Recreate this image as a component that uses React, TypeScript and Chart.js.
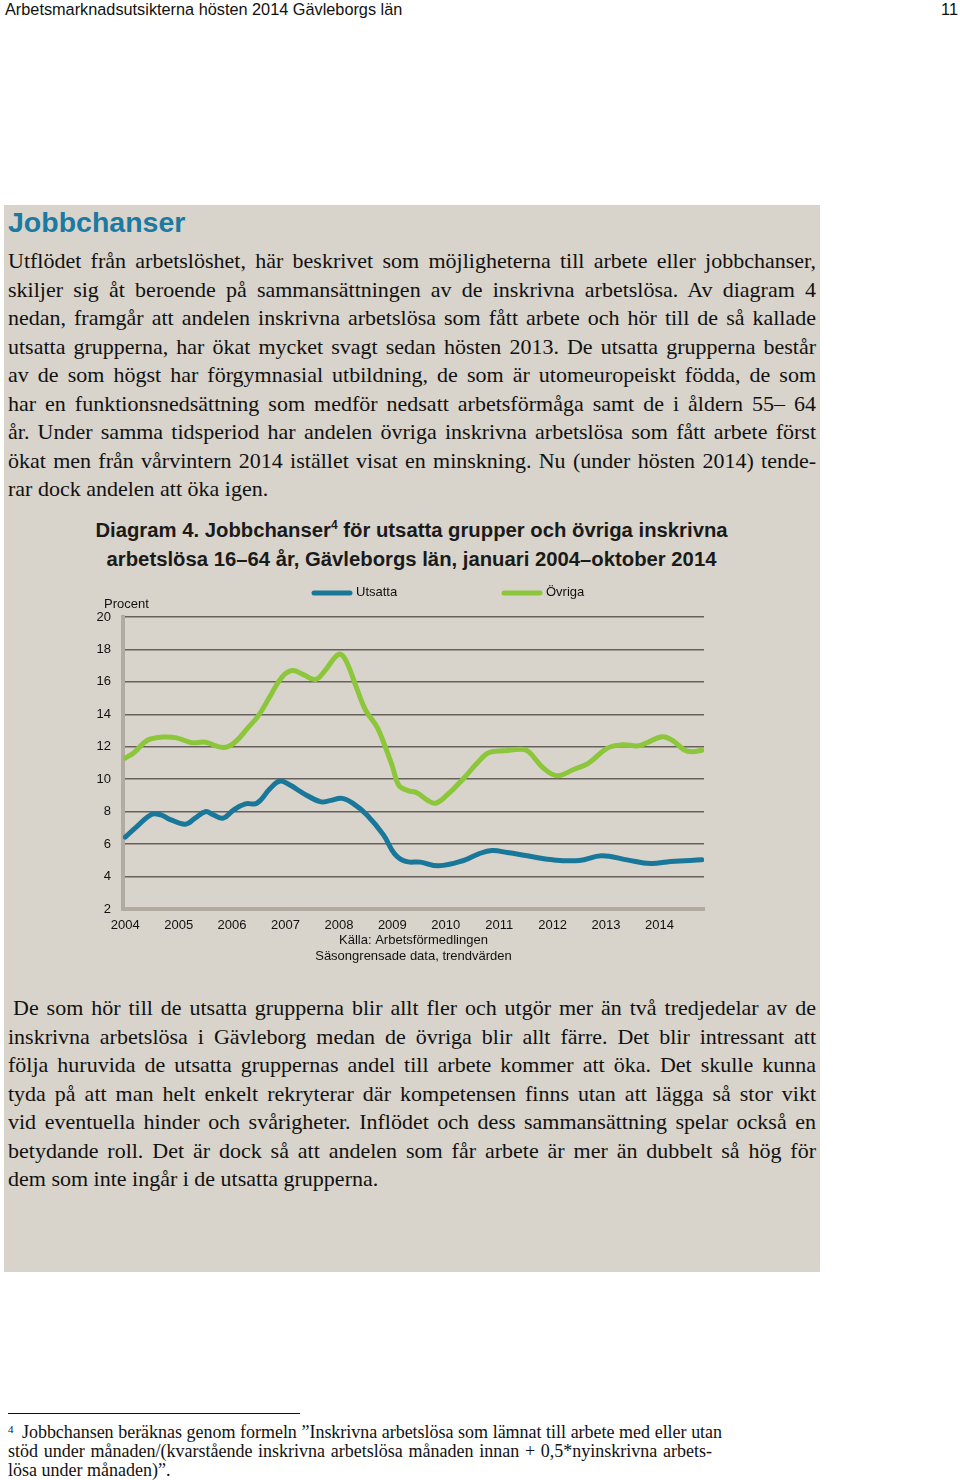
import React, { useEffect, useRef } from 'react';
import { Chart, registerables } from 'chart.js';

Chart.register(...registerables);

// ---- Data (months counted from January 2004 = 0) ----
const yearLabels = ['2004', '2005', '2006', '2007', '2008', '2009', '2010', '2011', '2012', '2013', '2014'];
const yearTickMonths = [0, 12, 24, 36, 48, 60, 72, 84, 96, 108, 120];
const yTicks = [2, 4, 6, 8, 10, 12, 14, 16, 18, 20];

const utsattaMonths = [0, 2.6, 6, 8, 10, 13.5, 15.7, 18, 19.8, 22, 24.3, 27, 29.6, 32.6, 34.8, 37, 40, 43.8, 46, 48.7, 51.3, 54.3, 58, 60.5, 63, 66.3, 70.4, 76, 79.4, 82.4, 85.8, 90.3, 96, 102, 107, 112.7, 118, 122.5, 129.5];
const utsattaValues = [6.43, 7.08, 7.84, 7.8, 7.53, 7.23, 7.6, 8.0, 7.8, 7.6, 8.1, 8.48, 8.52, 9.44, 9.89, 9.64, 9.13, 8.62, 8.68, 8.82, 8.48, 7.8, 6.57, 5.4, 4.93, 4.89, 4.66, 4.99, 5.4, 5.6, 5.48, 5.28, 5.03, 4.99, 5.28, 5.03, 4.8, 4.93, 5.03];

const ovrigaMonths = [0, 2, 5, 8.5, 11.5, 15, 18, 22, 24.5, 27.5, 30, 32.5, 35.2, 37.5, 40, 42.7, 44.6, 47.9, 49.4, 52, 54, 56.6, 58.4, 60, 61.5, 63.5, 65.5, 67.8, 69.7, 72.3, 76, 79, 81.6, 85, 89, 90.6, 94, 97, 100.7, 104, 108.2, 111.5, 115.3, 117.2, 120.6, 122.9, 125.6, 127.4, 129.5];
const ovrigaValues = [11.3, 11.65, 12.4, 12.6, 12.55, 12.25, 12.28, 11.95, 12.25, 13.15, 13.95, 15.1, 16.3, 16.7, 16.45, 16.15, 16.6, 17.7, 17.4, 15.6, 14.25, 13.2, 12.0, 10.8, 9.6, 9.3, 9.17, 8.72, 8.52, 9.03, 10.05, 10.98, 11.63, 11.75, 11.84, 11.7, 10.67, 10.22, 10.6, 10.98, 11.9, 12.12, 12.06, 12.25, 12.62, 12.4, 11.8, 11.7, 11.78];

const seriesLabels = ['Utsatta', 'Övriga'];
const yUnit = 'Procent';
const sourceLines = ['Källa: Arbetsförmedlingen', 'Säsongrensade data, trendvärden'];

// ---- Styles ----
const BLUE = '#19779a';
const GREEN = '#8cc63a';
const BOX_BG = '#d8d4cb';
const GRID = '#66615c';
const AXIS = '#b2aba1';
const SANS = '"Liberation Sans", Arial, sans-serif';
const SERIF = '"Liberation Serif", "Times New Roman", serif';
const LEGEND_OFFSETS = [191, 381];

let measureCtx: CanvasRenderingContext2D | null = null;
function fitSpacing(text: string, font: string, width: number) {
  if (!measureCtx) measureCtx = document.createElement('canvas').getContext('2d');
  if (!measureCtx) return 0;
  measureCtx.font = font;
  const w = measureCtx.measureText(text).width;
  return w > width - 1 ? (width - 1 - w) / text.length - 0.02 : 0;
}

const overlayPlugin = {
  id: 'overlay',
  afterDraw(chart: any) {
    const { ctx, chartArea } = chart;
    ctx.save();
    ctx.font = '13px ' + SANS;
    ctx.fillStyle = '#111';
    ctx.textBaseline = 'middle';
    ctx.textAlign = 'left';
    ctx.fillText(yUnit, chartArea.left - 19, chartArea.top - 13);
    chart.data.datasets.forEach((ds: any, i: number) => {
      const x0 = chartArea.left + LEGEND_OFFSETS[i];
      const y = chartArea.top - 25;
      ctx.strokeStyle = ds.borderColor;
      ctx.lineWidth = 5;
      ctx.lineCap = 'round';
      ctx.beginPath();
      ctx.moveTo(x0, y + 1);
      ctx.lineTo(x0 + 36, y + 1);
      ctx.stroke();
      ctx.fillText(ds.label, x0 + 42, y);
    });
    ctx.restore();
  },
};

function ChartCanvas() {
  const ref = useRef<HTMLCanvasElement | null>(null);
  useEffect(() => {
    if (!ref.current) return;
    Chart.defaults.font.family = SANS;
    Chart.defaults.font.size = 13;
    Chart.defaults.color = '#111';
    const mk = (ms: number[], vs: number[]) => ms.map((m, i) => ({ x: m, y: vs[i] }));
    const chart = new Chart(ref.current, {
      type: 'line',
      data: {
        datasets: [
          {
            label: seriesLabels[0],
            data: mk(utsattaMonths, utsattaValues),
            borderColor: BLUE,
            backgroundColor: BLUE,
            borderWidth: 5,
            pointRadius: 0,
            tension: 0.4,
            borderCapStyle: 'round',
            borderJoinStyle: 'round',
          },
          {
            label: seriesLabels[1],
            data: mk(ovrigaMonths, ovrigaValues),
            borderColor: GREEN,
            backgroundColor: GREEN,
            borderWidth: 5,
            pointRadius: 0,
            tension: 0.4,
            borderCapStyle: 'round',
            borderJoinStyle: 'round',
          },
        ],
      },
      options: {
        animation: false,
        responsive: false,
        devicePixelRatio: 1,
        layout: { padding: { top: 39, right: 106, bottom: 6, left: 0 } },
        plugins: { legend: { display: false }, tooltip: { enabled: false } },
        scales: {
          x: {
            type: 'linear',
            min: -0.5,
            max: 130,
            grid: { display: false, drawTicks: false },
            border: { display: true, color: AXIS, width: 4 },
            afterBuildTicks: (axis: any) => {
              axis.ticks = yearTickMonths.map((v) => ({ value: v }));
            },
            afterFit: (scale: any) => {
              scale.height = 55;
            },
            ticks: {
              autoSkip: false,
              maxRotation: 0,
              padding: 9,
              color: '#111',
              font: { size: 13 },
              callback: (v: any) => {
                const idx = yearTickMonths.indexOf(Number(v));
                return idx >= 0 ? yearLabels[idx] : '';
              },
            },
            title: {
              display: true,
              text: sourceLines,
              color: '#111',
              font: { size: 13, lineHeight: 1.23 },
              padding: { top: 0, bottom: 0 },
            },
          },
          y: {
            min: 2,
            max: 20,
            afterBuildTicks: (axis: any) => {
              axis.ticks = yTicks.map((v) => ({ value: v }));
            },
            afterFit: (scale: any) => {
              scale.width = 33;
            },
            grid: {
              drawTicks: false,
              lineWidth: 1.5,
              color: (c: any) => (c.tick && c.tick.value === 2 ? 'rgba(0,0,0,0)' : GRID),
            },
            border: { display: true, color: AXIS, width: 4 },
            ticks: { padding: 12, color: '#111', font: { size: 13 } },
          },
        },
      },
      plugins: [overlayPlugin],
    } as any);
    return () => chart.destroy();
  }, []);
  return (
    <canvas
      ref={ref}
      width={720}
      height={392}
      style={{ position: 'absolute', left: 90, top: 578, width: 720, height: 392 }}
    />
  );
}

const para1 = [
  'Utflödet från arbetslöshet, här beskrivet som möjligheterna till arbete eller jobbchanser,',
  'skiljer sig åt beroende på sammansättningen av de inskrivna arbetslösa. Av diagram 4',
  'nedan, framgår att andelen inskrivna arbetslösa som fått arbete och hör till de så kallade',
  'utsatta grupperna, har ökat mycket svagt sedan hösten 2013. De utsatta grupperna består',
  'av de som högst har förgymnasial utbildning, de som är utomeuropeiskt födda, de som',
  'har en funktionsnedsättning som medför nedsatt arbetsförmåga samt de i åldern 55– 64',
  'år. Under samma tidsperiod har andelen övriga inskrivna arbetslösa som fått arbete först',
  'ökat men från vårvintern 2014 istället visat en minskning. Nu (under hösten 2014) tende-',
  'rar dock andelen att öka igen.',
];

const para2 = [
  'De som hör till de utsatta grupperna blir allt fler och utgör mer än två tredjedelar av de',
  'inskrivna arbetslösa i Gävleborg medan de övriga blir allt färre. Det blir intressant att',
  'följa huruvida de utsatta gruppernas andel till arbete kommer att öka. Det skulle kunna',
  'tyda på att man helt enkelt rekryterar där kompetensen finns utan att lägga så stor vikt',
  'vid eventuella hinder och svårigheter. Inflödet och dess sammansättning spelar också en',
  'betydande roll. Det är dock så att andelen som får arbete är mer än dubbelt så hög för',
  'dem som inte ingår i de utsatta grupperna.',
];

const footLines = [
  'Jobbchansen beräknas genom formeln ”Inskrivna arbetslösa som lämnat till arbete med eller utan',
  'stöd under månaden/(kvarstående inskrivna arbetslösa månaden innan + 0,5*nyinskrivna arbets-',
  'lösa under månaden)”.',
];

const BODY_SIZE = 22;

function Lines({ lines, left, top, width, firstIndent = 0 }: any) {
  const font = `${BODY_SIZE}px ${SERIF}`;
  return (
    <div style={{ position: 'absolute', left, top, width }}>
      {lines.map((t: string, i: number) => {
        const last = i === lines.length - 1;
        const w = width - (i === 0 ? firstIndent : 0);
        const ls = fitSpacing(t, font, w);
        return (
          <div
            key={i}
            style={{
              height: 28.5,
              lineHeight: '28.5px',
              fontFamily: SERIF,
              fontSize: BODY_SIZE,
              letterSpacing: ls,
              color: '#111',
              whiteSpace: 'nowrap',
              textAlign: last ? 'left' : 'justify',
              textAlignLast: last ? 'left' : 'justify',
              paddingLeft: i === 0 ? firstIndent : 0,
            } as any}
          >
            {t}
          </div>
        );
      })}
    </div>
  );
}

const FOOT_SIZE = 18;

export default function App() {
  const footFont = `${FOOT_SIZE}px ${SERIF}`;
  const footWidths = [700, 704, 0];
  return (
    <div
      style={{
        position: 'absolute',
        left: 0,
        top: 0,
        width: 960,
        height: 1480,
        background: '#fff',
        overflow: 'hidden',
      }}
    >
      <div
        style={{
          position: 'absolute',
          left: 5,
          top: 0,
          fontFamily: SANS,
          fontSize: 16.3,
          lineHeight: '19px',
          color: '#111',
          whiteSpace: 'nowrap',
        }}
      >
        Arbetsmarknadsutsikterna hösten 2014 Gävleborgs län
      </div>
      <div
        style={{
          position: 'absolute',
          right: 2,
          top: 0,
          fontFamily: SANS,
          fontSize: 16.3,
          lineHeight: '19px',
          color: '#111',
        }}
      >
        11
      </div>

      <div style={{ position: 'absolute', left: 4, top: 205, width: 816, height: 1067, background: BOX_BG }} />

      <div
        style={{
          position: 'absolute',
          left: 8,
          top: 205,
          fontFamily: SANS,
          fontWeight: 'bold',
          fontSize: 28.5,
          lineHeight: '34px',
          color: '#1b7aa2',
        }}
      >
        Jobbchanser
      </div>

      <Lines lines={para1} left={8} top={247} width={808} />

      <div
        style={{
          position: 'absolute',
          left: 0,
          top: 515.5,
          width: 823,
          textAlign: 'center',
          fontFamily: SANS,
          fontWeight: 'bold',
          fontSize: 20.3,
          color: '#1a1a1a',
          whiteSpace: 'nowrap',
        }}
      >
        <div style={{ height: 29, lineHeight: '29px' }}>
          Diagram 4. Jobbchanser
          <span style={{ fontSize: 12, lineHeight: '0px', position: 'relative', top: -8 }}>4</span> för utsatta grupper och övriga inskrivna
        </div>
        <div style={{ height: 29, lineHeight: '29px' }}>arbetslösa 16–64 år, Gävleborgs län, januari 2004–oktober 2014</div>
      </div>

      <ChartCanvas />

      <Lines lines={para2} left={8} top={994} width={808} firstIndent={5} />

      <div style={{ position: 'absolute', left: 8, top: 1413, width: 292, height: 1, background: '#111' }} />

      <div
        style={{
          position: 'absolute',
          left: 8,
          top: 1422.5,
          fontFamily: SERIF,
          fontSize: FOOT_SIZE,
          lineHeight: '19px',
          color: '#111',
        }}
      >
        <div style={{ display: 'flex', width: 714, height: 19, whiteSpace: 'nowrap' }}>
          <span style={{ fontSize: 11, position: 'relative', top: -3, width: 14 }}>4</span>
          <span
            style={{
              width: footWidths[0],
              textAlign: 'justify',
              textAlignLast: 'justify',
              letterSpacing: fitSpacing(footLines[0], footFont, footWidths[0]),
            } as any}
          >
            {footLines[0]}
          </span>
        </div>
        <div
          style={{
            width: footWidths[1],
            height: 19,
            whiteSpace: 'nowrap',
            textAlign: 'justify',
            textAlignLast: 'justify',
            letterSpacing: fitSpacing(footLines[1], footFont, footWidths[1]),
          } as any}
        >
          {footLines[1]}
        </div>
        <div style={{ whiteSpace: 'nowrap', height: 19 }}>{footLines[2]}</div>
      </div>
    </div>
  );
}
